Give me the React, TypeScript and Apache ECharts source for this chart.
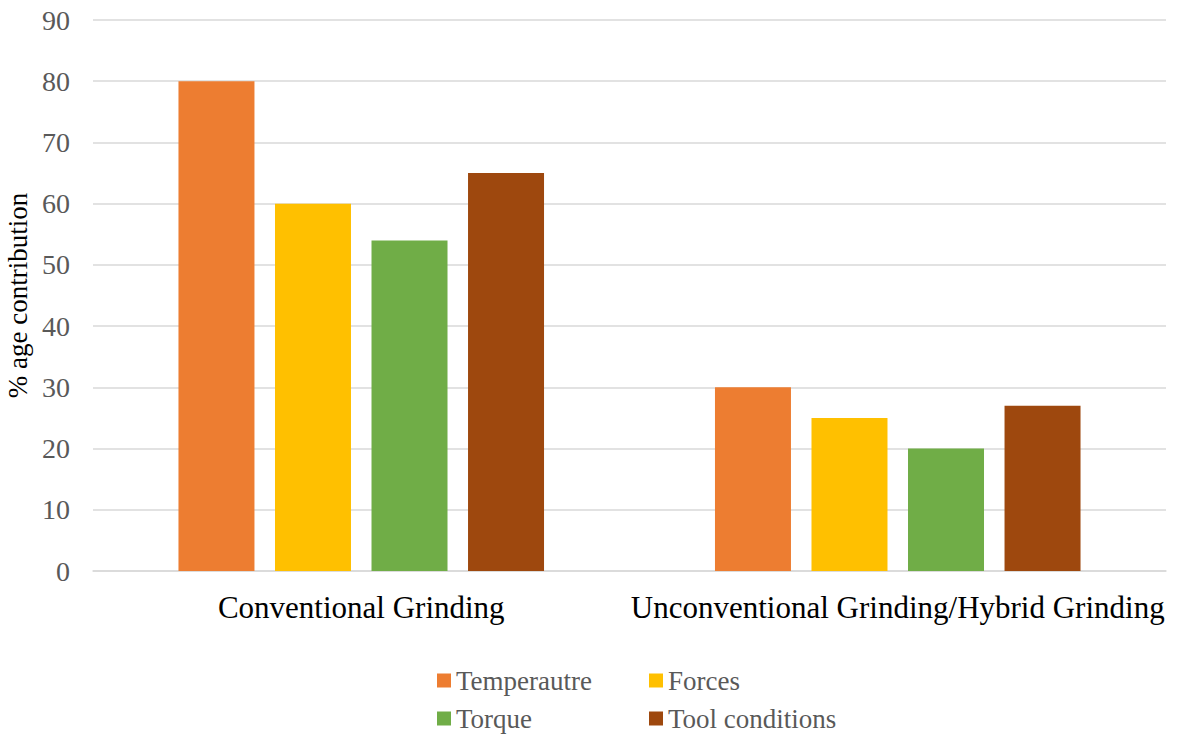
import React, { useEffect, useRef } from "react";
import * as echarts from "echarts";

const categories = ["Conventional Grinding", "Unconventional Grinding/Hybrid Grinding"];
const seriesNames = ["Temperautre", "Forces", "Torque", "Tool conditions"];
const temperature = [80, 30];
const forces = [60, 25];
const torque = [54, 20];
const toolConditions = [65, 27];
const colors = ["#ED7D31", "#FFC000", "#70AD47", "#9E480E"];

const FONT = "Liberation Serif";

// legend slots laid out as two columns by two rows
const legendLefts = [437, 649, 437, 649];
const legendTops = [667, 667, 705, 705];

export default function App() {
  const ref = useRef<HTMLDivElement>(null);

  useEffect(() => {
    if (!ref.current) return;
    const chart = echarts.init(ref.current, null, { renderer: "svg" });
    const values = [temperature, forces, torque, toolConditions];
    const order = [0, 1, 2, 3];
    chart.setOption({
      animation: false,
      textStyle: { fontFamily: FONT },
      grid: { left: 93, right: 12, top: 20, bottom: 164, outerBoundsMode: "none", containLabel: false },
      legend: order.map((i) => ({
        left: legendLefts[i],
        top: legendTops[i],
        padding: 0,
        itemWidth: 14,
        itemHeight: 14,
        icon: "rect",
        data: [seriesNames[i]],
        textStyle: { fontFamily: FONT, fontSize: 27, color: "#595959" },
      })),
      xAxis: {
        type: "category",
        data: categories,
        axisLine: { lineStyle: { color: "#D9D9D9", width: 1.5 } },
        axisTick: { show: false },
        axisLabel: { color: "#000", fontSize: 31, fontFamily: FONT, margin: 21, interval: 0 },
      },
      yAxis: {
        type: "value",
        min: 0,
        max: 90,
        interval: 10,
        name: "% age contribution",
        nameLocation: "middle",
        nameGap: 57,
        nameRotate: 90,
        nameTextStyle: { color: "#000", fontSize: 27, fontFamily: FONT },
        axisLine: { show: false },
        axisTick: { show: false },
        axisLabel: { color: "#595959", fontSize: 28, fontFamily: FONT, margin: 23 },
        splitLine: { lineStyle: { color: "#D9D9D9", width: 1.5 } },
      },
      series: seriesNames.map((name, i) => ({
        name,
        type: "bar",
        data: values[i],
        barWidth: 76,
        barGap: "27%",
        itemStyle: { color: colors[i] },
      })),
    });
    return () => chart.dispose();
  }, []);

  return (
    <div
      ref={ref}
      style={{ position: "fixed", left: 0, top: 0, width: 1178, height: 735, background: "#fff" }}
    />
  );
}
